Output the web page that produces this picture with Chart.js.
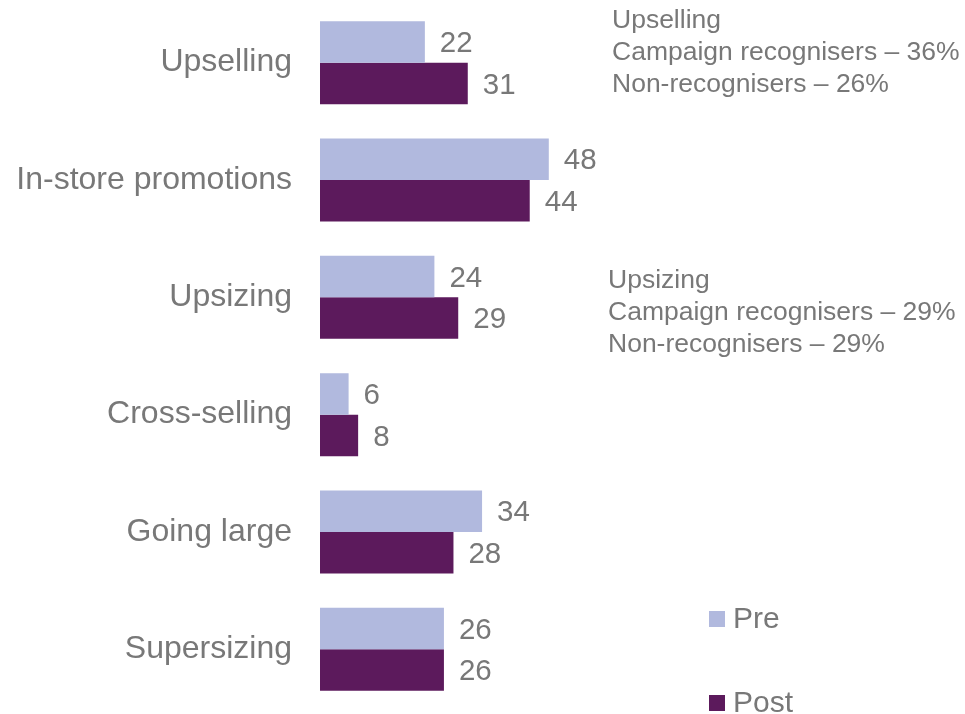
<!DOCTYPE html>
<html>
<head>
<meta charset="utf-8">
<script src="https://cdn.jsdelivr.net/npm/chart.js@4"></script>
<style>
  html, body { margin: 0; padding: 0; background: #fff; }
  #wrap { width: 965px; height: 714px; }
</style>
</head>
<body>
<div id="wrap"><canvas id="tacticsChart"></canvas></div>
<script>
const categories = ['Upselling', 'In-store promotions', 'Upsizing', 'Cross-selling', 'Going large', 'Supersizing'];
const preValues = [22, 48, 24, 6, 34, 26];
const postValues = [31, 44, 29, 8, 28, 26];

// side notes beside the Upselling and Upsizing rows
const upsellingNote = ['Upselling', 'Campaign recognisers \u2013 36%', 'Non-recognisers \u2013 26%'];
const upsizingNote = ['Upsizing', 'Campaign recognisers \u2013 29%', 'Non-recognisers \u2013 29%'];

const textGrey = '#787878';
const fontFamily = '"Liberation Sans", Arial, sans-serif';

// value labels at the end of each bar
const valueLabels = {
  id: 'valueLabels',
  afterDatasetsDraw(chart) {
    const ctx = chart.ctx;
    ctx.save();
    ctx.font = '29.5px ' + fontFamily;
    ctx.fillStyle = textGrey;
    ctx.textAlign = 'left';
    ctx.textBaseline = 'middle';
    chart.data.datasets.forEach((ds, i) => {
      chart.getDatasetMeta(i).data.forEach((bar, j) => {
        ctx.fillText(String(ds.data[j]), bar.x + 15, bar.y + 2);
      });
    });
    ctx.restore();
  }
};

// notes on the right plus the stacked legend
const sideText = {
  id: 'sideText',
  afterDraw(chart) {
    const ctx = chart.ctx;
    ctx.save();
    ctx.fillStyle = textGrey;
    ctx.textAlign = 'left';
    ctx.textBaseline = 'alphabetic';
    ctx.font = '26.5px ' + fontFamily;
    upsellingNote.forEach((line, i) => ctx.fillText(line, 612, 28 + i * 32));
    upsizingNote.forEach((line, i) => ctx.fillText(line, 608, 288 + i * 32));

    ctx.font = '30px ' + fontFamily;
    const legendRows = [
      { label: 'Pre', color: chart.data.datasets[0].backgroundColor, y: 611 },
      { label: 'Post', color: chart.data.datasets[1].backgroundColor, y: 695 }
    ];
    legendRows.forEach(row => {
      ctx.fillStyle = row.color;
      ctx.fillRect(709, row.y, 16, 16);
      ctx.fillStyle = textGrey;
      ctx.fillText(row.label, 733, row.y + 17);
    });
    ctx.restore();
  }
};

const ctx = document.getElementById('tacticsChart').getContext('2d');
const tacticsChart = new Chart(ctx, {
  type: 'bar',
  data: {
    labels: categories,
    datasets: [
      { label: 'Pre', data: preValues, backgroundColor: '#b1b9de' },
      { label: 'Post', data: postValues, backgroundColor: '#5c1a5c' }
    ]
  },
  options: {
    indexAxis: 'y',
    responsive: true,
    maintainAspectRatio: false,
    animation: false,
    layout: { padding: { left: 0, right: 359, top: 4, bottom: 6 } },
    datasets: {
      bar: { categoryPercentage: 0.708, barPercentage: 1.0 }
    },
    plugins: {
      legend: { display: false },
      tooltip: { enabled: false }
    },
    scales: {
      x: { display: false, min: 0, max: 60 },
      y: {
        grid: { display: false, drawTicks: false },
        border: { display: false },
        ticks: {
          color: textGrey,
          padding: 28,
          font: { family: fontFamily, size: 32 }
        },
        afterFit(scale) {
          // fixed label column, and no extra room above/below for the labels
          scale.width = 320;
          scale.paddingTop = 0;
          scale.paddingBottom = 0;
        }
      }
    }
  },
  plugins: [valueLabels, sideText]
});
</script>
</body>
</html>
